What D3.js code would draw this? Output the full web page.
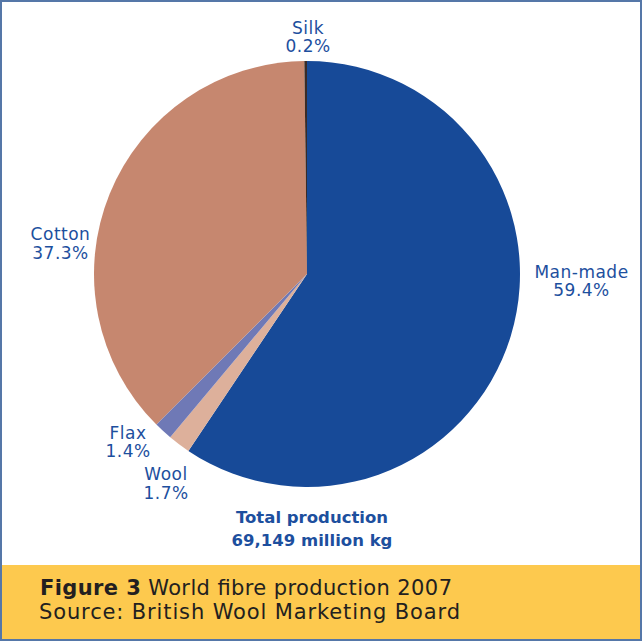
<!DOCTYPE html>
<html>
<head>
<meta charset="utf-8">
<script src="https://cdn.jsdelivr.net/npm/d3@7"></script>
<style>
  body { margin: 0; background: #fff; }
  svg text { font-family: "DejaVu Sans", "Open Sans", sans-serif; }
</style>
</head>
<body>
<div id="chart"></div>
<script>
// Fibre shares, clockwise from 12 o'clock
var fibres = ["Man-made", "Wool", "Flax", "Cotton", "Silk"];
var shares = [59.4, 1.7, 1.4, 37.3, 0.2];
var colours = ["#174a98", "#ddb09b", "#6f79b6", "#c6876f", "#3b2b26"];

var totalLines = ["Total production", "69,149 million kg"];
var captionBold = "Figure 3";
var captionRest = " World fibre production 2007";
var sourceLine = "Source: British Wool Marketing Board";

var width = 642, height = 641;
var cx = 307, cy = 274, radius = 213;

var svg = d3.select("#chart").append("svg")
    .attr("width", width)
    .attr("height", height);

svg.append("rect")
    .attr("width", width)
    .attr("height", height)
    .attr("fill", "#fff");

var data = fibres.map(function(name, i) {
  return {name: name, value: shares[i], colour: colours[i]};
});

var pie = d3.pie()
    .sort(null)
    .value(function(d) { return d.value; });

var arc = d3.arc()
    .innerRadius(0)
    .outerRadius(radius);

var g = svg.append("g")
    .attr("transform", "translate(" + cx + "," + cy + ")");

g.selectAll("path.slice")
    .data(pie(data))
  .enter().append("path")
    .attr("class", "slice")
    .attr("d", arc)
    .attr("fill", function(d) { return d.data.colour; });

// slice labels, placed by hand around the pie (first baseline)
var labelPos = {
  "Man-made": [581.5, 277.5],
  "Wool": [166, 480],
  "Flax": [128, 438.5],
  "Cotton": [60.5, 240],
  "Silk": [308, 33.5]
};
var lineGap = 18.5;

var labels = svg.selectAll("text.label")
    .data(data)
  .enter().append("text")
    .attr("class", "label")
    .attr("text-anchor", "middle")
    .attr("fill", "#1d4f9e")
    .style("font-size", "17px")
    .style("letter-spacing", "0.5px")
    .attr("transform", function(d) {
      var p = labelPos[d.name];
      return "translate(" + p[0] + "," + p[1] + ")";
    });

labels.append("tspan")
    .attr("x", 0)
    .attr("y", 0)
    .text(function(d) { return d.name; });

labels.append("tspan")
    .attr("x", 0)
    .attr("y", lineGap)
    .text(function(d) { return d.value.toFixed(1) + "%"; });

var total = svg.append("text")
    .attr("text-anchor", "middle")
    .attr("fill", "#1d4f9e")
    .style("font-size", "16.5px")
    .style("font-weight", "bold")
    .attr("transform", "translate(312,523)");

total.selectAll("tspan")
    .data(totalLines)
  .enter().append("tspan")
    .attr("x", 0)
    .attr("y", function(d, i) { return i * 23; })
    .text(function(d) { return d; });

// caption band
svg.append("rect")
    .attr("x", 1)
    .attr("y", 565)
    .attr("width", width - 2)
    .attr("height", 74)
    .attr("fill", "#fdc94e");

var cap = svg.append("text")
    .attr("x", 40)
    .attr("y", 595)
    .attr("fill", "#231f20")
    .attr("textLength", 412)
    .attr("lengthAdjust", "spacing")
    .style("font-size", "21px");

cap.append("tspan")
    .style("font-weight", "bold")
    .text(captionBold);
cap.append("tspan")
    .text(captionRest);

svg.append("text")
    .attr("x", 39)
    .attr("y", 619)
    .attr("fill", "#231f20")
    .attr("textLength", 421)
    .attr("lengthAdjust", "spacing")
    .style("font-size", "21px")
    .text(sourceLine);

// frame
svg.append("rect")
    .attr("x", 1)
    .attr("y", 1)
    .attr("width", width - 2)
    .attr("height", height - 2)
    .attr("fill", "none")
    .attr("stroke", "#5577a8")
    .attr("stroke-width", 2);
</script>
</body>
</html>
